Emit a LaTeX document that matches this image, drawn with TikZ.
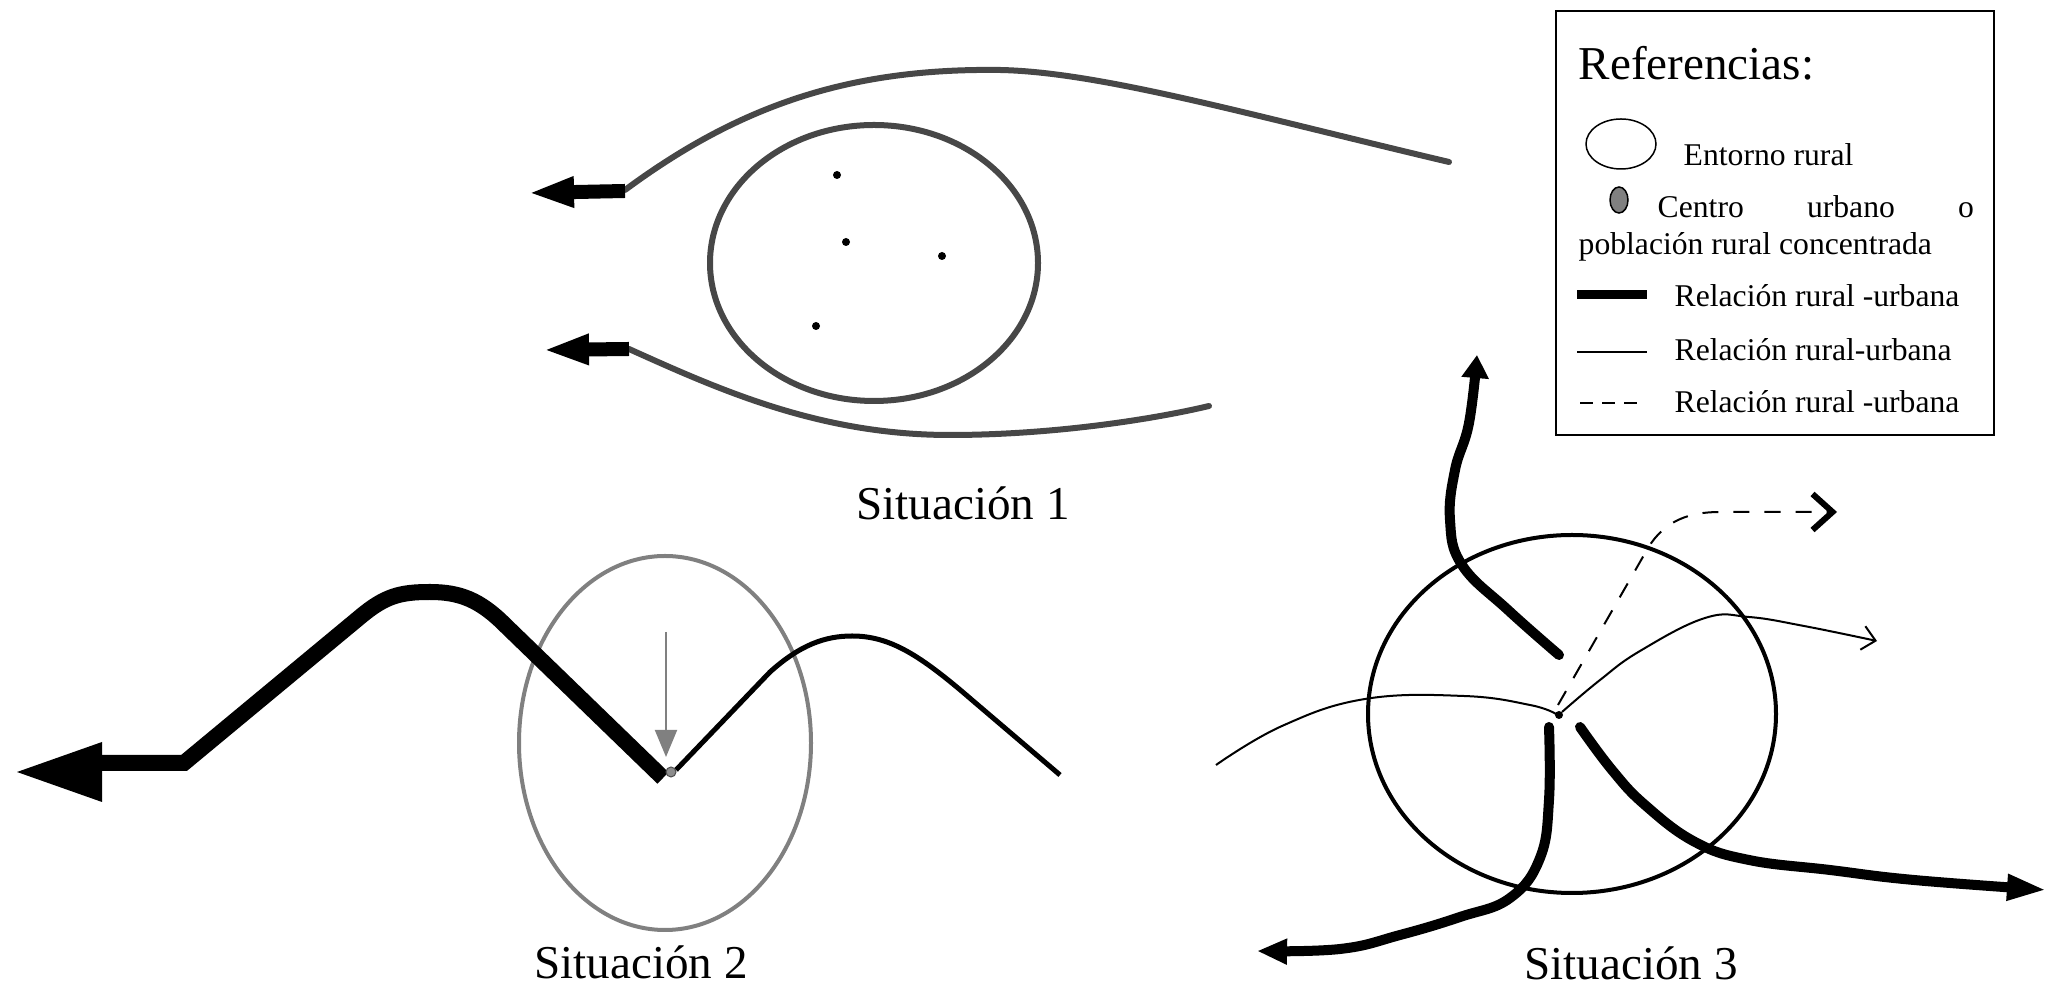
\documentclass[tikz,border=0pt]{standalone}
\usepackage{fontspec}
\setmainfont{Liberation Serif}
\usepackage{tikz}
\usetikzlibrary{arrows.meta}

\tikzset{
  flowone/.style={line width=0.06cm,black!72,line cap=round},
  blockhead/.style={line width=0.14cm,-{Triangle[length=0.46cm,width=0.28cm]}},
  strongrel/.style={line width=0.10cm,line cap=round,line join=round},
  midrel/.style={line width=0.05cm,line join=round},
  weakrel/.style={line width=0.02cm},
  dashrel/.style={line width=0.02cm,dash pattern=on 0.16cm off 0.15cm},
  legtext/.style={anchor=base west,inner sep=0pt,font=\fontsize{9}{11}\selectfont},
  sitlabel/.style={anchor=base,inner sep=0pt,font=\fontsize{13.4}{16}\selectfont}
}

\begin{document}
\begin{tikzpicture}[x=0.01cm,y=-0.01cm]
  \useasboundingbox (0,0) rectangle (2060,989);
  % Situacion 1
  \draw[flowone] (874,263) ellipse (164 and 138);
  \foreach \x/\y in {837/175,846/242,942/256,816/326}{\fill (\x,\y) circle (4);}
  \draw[flowone] (1449,162) .. controls (1250,115) and (1100,72) .. (1000,70)
    .. controls (850,68) and (740,105) .. (625,190);
  \draw[flowone] (1209,406) .. controls (1150,420) and (1050,435) .. (950,435)
    .. controls (820,435) and (720,390) .. (629,349);
  \draw[blockhead] (625,191) -- (528,193);
  \draw[blockhead] (629,349) -- (543,350);
  \node[sitlabel] (sit1) at (963,520) {Situación 1};

  % Situacion 2
  \draw[line width=0.04cm,black!50] (665,743) ellipse (146 and 187);
  \fill (102,742) -- (17,772) -- (102,802) -- cycle;
  \draw[line width=0.16cm] (100,763) -- (184,763) -- (360,617)
    .. controls (385,596) and (400,592) .. (430,592)
    .. controls (460,592) and (480,600) .. (505,625) -- (663,778);
  \draw[midrel] (676,770) -- (770,672) .. controls (800,645) and (825,636) .. (852,636)
    .. controls (890,636) and (920,655) .. (972,700) -- (1060,775);
  \draw[line width=0.02cm,black!50,-{Triangle[length=0.27cm,width=0.22cm]}] (666,632) -- (666,757);
  \filldraw[fill=black!45,draw=black!70,line width=0.01cm] (671,772) circle (5);
  \node[sitlabel] (sit2) at (641,979) {Situación 2};

  % Situacion 3
  \draw[line width=0.04cm] (1572,714) ellipse (204 and 179);
  \draw[strongrel,-{Triangle[length=0.23cm,width=0.26cm]}] plot[smooth,tension=0.7] coordinates
    {(1559,655) (1508,610) (1462,565) (1450,520) (1455,470) (1469,423) (1477,355)};
  \draw[strongrel,-{Triangle[length=0.30cm,width=0.24cm]}] plot[smooth,tension=0.7] coordinates
    {(1549,727) (1549,800) (1540,858) (1510,898) (1460,917) (1400,935) (1340,949) (1257,951)};
  \draw[strongrel,-{Triangle[length=0.40cm,width=0.24cm]}] plot[smooth,tension=0.7] coordinates
    {(1580,727) (1612,770) (1645,805) (1695,842) (1749,860) (1830,870) (1914,880) (2047,890)};
  \draw[dashrel,-{Straight Barb[length=0.2cm,width=0.36cm,line width=0.06cm]}] (1558,705) -- (1648,548)
    .. controls (1665,520) and (1690,512) .. (1720,512) -- (1837,512);
  \draw[weakrel] plot[smooth,tension=0.7] coordinates
    {(1216,765) (1282,726) (1365,699) (1464,696) (1530,705) (1556,714)};
  \draw[weakrel,-{Straight Barb[length=0.13cm,width=0.24cm]}] plot[smooth,tension=0.7] coordinates
    {(1562,712) (1600,680) (1640,651) (1705,618) (1749,617) (1804,626) (1877,641)};
  \fill (1559,715) circle (4);
  \node[sitlabel] (sit3) at (1631,980) {Situación 3};

  % Referencias
  \draw[line width=0.02cm] (1556,11) rectangle (1994,435);
  \node[anchor=base west,inner sep=0pt,font=\fontsize{13.4}{16}\selectfont] (leghead) at (1578,80) {Referencias:};
  \draw[line width=0.015cm] (1621,144) ellipse (35 and 25);
  \node[legtext] (legrural) at (1683,166) {Entorno rural};
  \filldraw[fill=black!50,line width=0.015cm] (1619,200) ellipse (9 and 13);
  \node[legtext] (legcentre) at (1657,218) {\makebox[3.16cm][s]{Centro urbano o}};
  \node[legtext] (legcentretwo) at (1578,255) {población rural concentrada};
  \draw[line width=0.09cm] (1577,295) -- (1647,295);
  \node[legtext] (legstrong) at (1674,307) {Relación rural -urbana};
  \draw[line width=0.015cm] (1577,352) -- (1647,352);
  \node[legtext] (legweak) at (1674,361) {Relación rural-urbana};
  \draw[line width=0.02cm,dash pattern=on 0.13cm off 0.09cm] (1580,403) -- (1640,403);
  \node[legtext] (legdash) at (1674,413) {Relación rural -urbana};
\end{tikzpicture}
\end{document}
